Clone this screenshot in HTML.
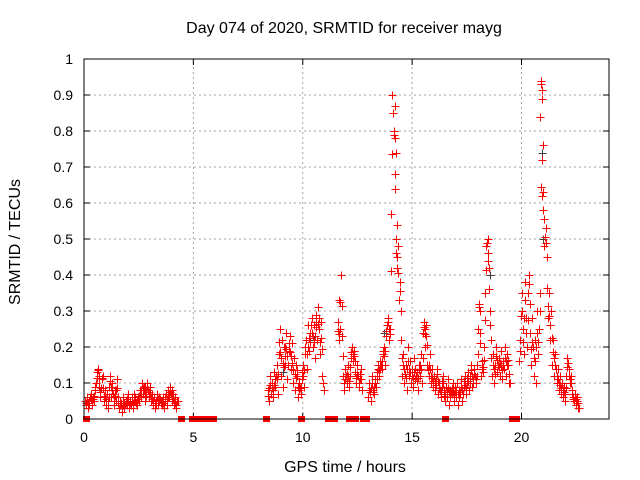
<!DOCTYPE html>
<html><head><meta charset="utf-8"><style>
body{margin:0;background:#fff}
svg{display:block;font-family:"Liberation Sans",sans-serif}
</style></head><body>
<svg id="chart" width="640" height="480">
<rect width="640" height="480" fill="#fff"/>
<text x="344" y="33" font-size="16" text-anchor="middle">Day 074 of 2020, SRMTID for receiver mayg</text>
<text x="345" y="472" font-size="16" text-anchor="middle">GPS time / hours</text>
<text transform="translate(20,242) rotate(-90)" font-size="16" text-anchor="middle">SRMTID / TECUs</text>
<g id="grid"></g>
<g id="ticks"></g>
<g id="marks"></g>
<rect x="84" y="59" width="525" height="360" fill="none" stroke="#000" stroke-width="1"/>
</svg>
<script>
const xTicks=[0,5,10,15,20];
const yTicks=[0,0.1,0.2,0.3,0.4,0.5,0.6,0.7,0.8,0.9,1];
const yTickLabels=["0","0.1","0.2","0.3","0.4","0.5","0.6","0.7","0.8","0.9","1"];
const segStart=[0.05,8.4,11.6,13.0,19.9];
const segStep=[0.05,0.05,0.05,0.05,0.05];
const segVals=[
[0.05,0.04,0.06,0.03,0.05,0.07,0.04,0.06,0.05,0.08,0.10,0.13,0.14,0.09,0.06,0.11,0.12,0.05,0.08,0.04,0.07,0.03,0.09,0.12,0.06,0.10,0.04,0.08,0.05,0.11,0.06,0.03,0.05,0.04,0.02,0.06,0.03,0.05,0.04,0.07,0.03,0.05,0.04,0.06,0.03,0.07,0.05,0.04,0.06,0.05,0.08,0.06,0.10,0.07,0.09,0.05,0.08,0.10,0.06,0.09,0.05,0.07,0.04,0.06,0.03,0.05,0.07,0.04,0.06,0.05,0.04,0.06,0.03,0.05,0.07,0.04,0.08,0.06,0.09,0.05,0.07,0.04,0.06,0.03,0.05],
[0.08,0.05,0.12,0.07,0.10,0.06,0.13,0.09,0.15,0.07,0.18,0.25,0.12,0.22,0.09,0.20,0.15,0.24,0.11,0.19,0.23,0.14,0.21,0.10,0.17,0.08,0.15,0.12,0.06,0.10,0.07,0.11,0.15,0.09,0.18,0.22,0.14,0.26,0.19,0.24,0.28,0.20,0.26,0.17,0.29,0.22,0.31,0.25,0.18,0.27,0.12,0.08],
[0.27,0.22,0.25,0.40,0.23,0.12,0.08,0.14,0.10,0.15,0.09,0.12,0.17,0.20,0.16,0.19,0.13,0.10,0.15,0.09,0.11,0.14,0.08],
[0.06,0.10,0.05,0.12,0.08,0.07,0.11,0.09,0.13,0.15,0.12,0.16,0.14,0.18,0.20,0.15,0.23,0.26,0.28,0.22,0.25,0.57,0.90,0.80,0.78,0.50,0.42,0.48,0.33,0.38,0.22,0.12,0.18,0.10,0.15,0.08,0.20,0.12,0.16,0.10,0.14,0.09,0.17,0.11,0.13,0.08,0.15,0.12,0.18,0.10,0.24,0.27,0.20,0.26,0.15,0.12,0.18,0.10,0.14,0.09,0.12,0.08,0.11,0.14,0.07,0.10,0.06,0.09,0.12,0.08,0.05,0.09,0.06,0.11,0.04,0.08,0.07,0.10,0.05,0.09,0.06,0.10,0.04,0.08,0.07,0.11,0.05,0.09,0.12,0.07,0.10,0.13,0.08,0.12,0.15,0.09,0.11,0.14,0.10,0.12,0.18,0.32,0.30,0.12,0.16,0.13,0.20,0.35,0.48,0.50,0.42,0.30,0.22,0.12,0.18,0.10,0.15,0.20,0.13,0.17,0.12,0.19,0.11,0.16,0.14,0.20,0.12,0.18,0.15,0.10],
[0.16,0.22,0.35,0.25,0.18,0.38,0.28,0.20,0.35,0.40,0.24,0.15,0.28,0.12,0.22,0.10,0.30,0.18,0.25,0.35,0.94,0.89,0.63,0.48,0.53,0.45,0.28,0.35,0.22,0.30,0.15,0.22,0.12,0.18,0.10,0.14,0.08,0.12,0.07,0.10,0.06,0.09,0.05,0.12,0.17,0.14,0.10,0.12,0.08,0.06,0.05,0.07,0.04,0.06,0.03]
];
const extraT=[14.2,14.2,14.25,14.3,20.85,20.95,21.0,18.45,11.65,14.15,20.9,20.92,0.7,1.3,2.8,4.0,9.2,10.6,15.6,18.1];
const extraV=[0.87,0.68,0.74,0.54,0.84,0.72,0.58,0.44,0.33,0.80,0.93,0.62,0.12,0.10,0.09,0.08,0.20,0.27,0.25,0.24];
const zeroT=[0.1,4.45,4.95,5.1,5.25,5.45,5.6,5.9,8.3,9.9,11.15,11.45,12.1,12.4,12.75,12.9,16.5,19.55,19.75];
const grayT=[14.2,14.25,18.5,18.55,20.95,21.0,13.7,9.1,10.5,17.8];
const grayV=[0.68,0.74,0.42,0.40,0.74,0.50,0.24,0.13,0.22,0.10];

const X0=84,X1=609,Y0=419,Y1=59,XMAX=24;
const xs=t=>X0+t/XMAX*(X1-X0);
const ys=v=>Y0-v*(Y0-Y1);
const NS="http://www.w3.org/2000/svg";
const grid=document.getElementById('grid'),ticks=document.getElementById('ticks'),marks=document.getElementById('marks');
function mk(tag,attrs,parent){const e=document.createElementNS(NS,tag);for(const k in attrs)e.setAttribute(k,attrs[k]);parent.appendChild(e);return e;}
xTicks.forEach(t=>{
  const x=xs(t);
  if(t>0){const g=mk('line',{x1:x,x2:x,y1:Y0,y2:Y1,stroke:'#a0a0a0','stroke-dasharray':'2,3'},grid);
  
  }
  const l=mk('line',{x1:x,x2:x,y1:Y0,y2:Y0-6,stroke:'#000'},ticks);
  
  
  const l2=mk('line',{x1:x,x2:x,y1:Y1,y2:Y1+6,stroke:'#000'},ticks);
  
  
  const tx=mk('text',{x:x,y:Y0+23,'font-size':14,'text-anchor':'middle'},ticks);tx.textContent=String(t);
  
  
});
yTicks.forEach((v,i)=>{
  const y=ys(v);
  if(v>0&&v<1){const g=mk('line',{x1:X0,x2:X1,y1:y,y2:y,stroke:'#a0a0a0','stroke-dasharray':'2,3'},grid);
  
  }
  const l=mk('line',{x1:X0,x2:X0+6,y1:y,y2:y,stroke:'#000'},ticks);
  
  
  const l2=mk('line',{x1:X1,x2:X1-6,y1:y,y2:y,stroke:'#000'},ticks);
  
  
  const tx=mk('text',{x:X0-11,y:y+5,'font-size':14,'text-anchor':'end'},ticks);tx.textContent=yTickLabels[i];
  
  
});
function plus(t,v,color,name){
  const x=Math.round(xs(t))+0.5,y=Math.round(ys(v))+0.5;
  const p=mk('path',{d:`M${x-4},${y}H${x+4}M${x},${y-4}V${y+4}`,stroke:color,'stroke-width':1,fill:'none'},marks);
  
  
}
grayT.forEach((t,i)=>plus(t,grayV[i],'#404040','gray-point'));
segVals.forEach((arr,s)=>arr.forEach((v,i)=>{
  const t=segStart[s]+i*segStep[s];
  plus(t,v,'#ff0000','srmtid-point');
  plus(t+0.025,(v+(arr[i+1]!==undefined?arr[i+1]:v))/2,'#ff0000','srmtid-point');
}));
extraT.forEach((t,i)=>plus(t,extraV[i],'#ff0000','srmtid-point'));
zeroT.forEach(t=>{
  const x=Math.round(xs(t))-3;
  const r=mk('rect',{x:x,y:Y0-3,width:7,height:6,fill:'#ff0000'},marks);
  
  
});
</script>
</body></html>
